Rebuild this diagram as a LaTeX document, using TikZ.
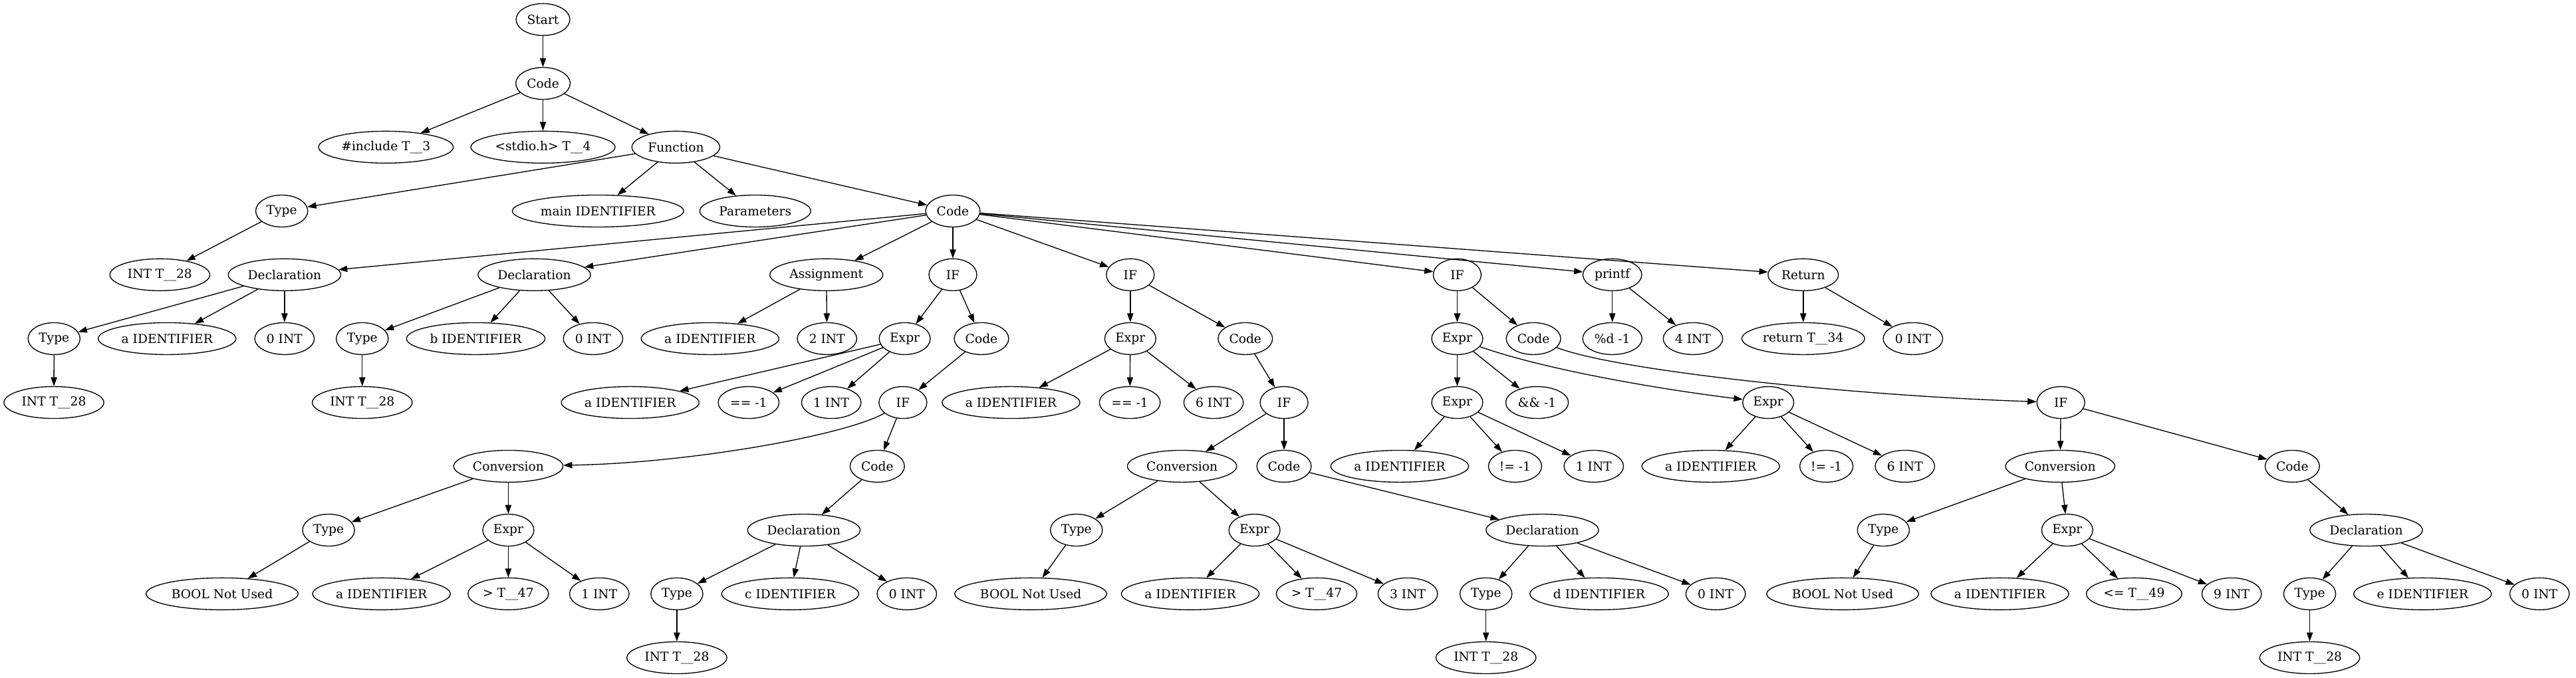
\documentclass[tikz,border=0pt]{standalone}
\usepackage{fontspec}
\setmainfont{DejaVu Serif}
\usetikzlibrary{shapes.geometric,arrows.meta}
\begin{document}
\begin{tikzpicture}[x=1.853pt,y=-1.853pt,
  nd/.style={ellipse,draw,line width=1pt,minimum width=54pt,minimum height=36pt,
    inner xsep=3.5pt,inner ysep=1pt,font=\fontsize{14}{16}\selectfont},
  ed/.style={-{Triangle[length=10pt,width=7pt]},line width=1pt}]
\path[use as bounding box] (0,0) rectangle (1568,412.45);
% row 0-3
\node[nd] (start) at (330.5,11.9) {Start};
\node[nd] (code0) at (330.5,50.8) {Code};
\node[nd] (inc) at (234.9,89.6) {\#include T\_\_3};
\node[nd] (std) at (330.5,89.6) {<stdio.h> T\_\_4};
\node[nd] (func) at (411.4,89.6) {Function};
\node[nd] (type0) at (171.5,128.5) {Type};
\node[nd] (mainid) at (364,128.5) {main IDENTIFIER};
\node[nd] (params) at (459.7,128.5) {Parameters};
\node[nd] (code1) at (580,128.5) {Code};
% row 4
\node[nd] (int0) at (97.3,167.3) {INT T\_\_28};
\node[nd] (dec1) at (173.2,167.3) {Declaration};
\node[nd] (dec2) at (325.2,167.3) {Declaration};
\node[nd] (asg) at (503,167.3) {Assignment};
\node[nd] (ifa) at (580,167.3) {IF};
\node[nd] (ifb) at (688,167.3) {IF};
\node[nd] (ifc) at (887,167.3) {IF};
\node[nd] (printf) at (981.4,167.3) {printf};
\node[nd] (ret) at (1097.6,167.3) {Return};
% row 5
\node[nd] (d1type) at (32.9,206.2) {Type};
\node[nd] (d1id) at (101.7,206.2) {a IDENTIFIER};
\node[nd] (d1val) at (173.2,206.2) {0 INT};
\node[nd] (d2type) at (220.5,206.2) {Type};
\node[nd] (d2id) at (289.6,206.2) {b IDENTIFIER};
\node[nd] (d2val) at (361,206.2) {0 INT};
\node[nd] (asgid) at (432.2,206.2) {a IDENTIFIER};
\node[nd] (asgval) at (503.4,206.2) {2 INT};
\node[nd] (aexpr) at (550.7,206.2) {Expr};
\node[nd] (acode) at (597.4,206.2) {Code};
\node[nd] (bexpr) at (688,206.2) {Expr};
\node[nd] (bcode) at (758,206.2) {Code};
\node[nd] (cexpr) at (887,206.2) {Expr};
\node[nd] (ccode) at (933.4,206.2) {Code};
\node[nd] (pfs) at (981.4,206.2) {\%d -1};
\node[nd] (pfi) at (1030.5,206.2) {4 INT};
\node[nd] (rett) at (1097.6,206.2) {return T\_\_34};
\node[nd] (retv) at (1164.4,206.2) {0 INT};
% row 6
\node[nd] (d1int) at (32.8,245.1) {INT T\_\_28};
\node[nd] (d2int) at (220.5,245.1) {INT T\_\_28};
\node[nd] (aeid) at (383.6,245.1) {a IDENTIFIER};
\node[nd] (aeop) at (455.7,245.1) {== -1};
\node[nd] (aeval) at (506,245.1) {1 INT};
\node[nd] (aif) at (549.6,245.1) {IF};
\node[nd] (beid) at (615.4,245.1) {a IDENTIFIER};
\node[nd] (beop) at (687.7,245.1) {== -1};
\node[nd] (beval) at (738.7,245.1) {6 INT};
\node[nd] (bif) at (781.6,245.1) {IF};
\node[nd] (cex1) at (887,245.1) {Expr};
\node[nd] (cand) at (935.6,245.1) {\&\& -1};
\node[nd] (cex2) at (1076.3,245.1) {Expr};
\node[nd] (cif) at (1254.4,245.1) {IF};
% row 7
\node[nd] (aconv) at (309.4,283.9) {Conversion};
\node[nd] (aicode) at (534,283.9) {Code};
\node[nd] (bconv) at (719.5,283.9) {Conversion};
\node[nd] (bicode) at (781.6,283.9) {Code};
\node[nd] (c1id) at (852,283.9) {a IDENTIFIER};
\node[nd] (c1op) at (922.2,283.9) {!= -1};
\node[nd] (c1val) at (970.1,283.9) {1 INT};
\node[nd] (c2id) at (1041.3,283.9) {a IDENTIFIER};
\node[nd] (c2op) at (1111.7,283.9) {!= -1};
\node[nd] (c2val) at (1159.5,283.9) {6 INT};
\node[nd] (cconv) at (1254,283.9) {Conversion};
\node[nd] (cicode) at (1395.3,283.9) {Code};
% row 8
\node[nd] (atype) at (200,322.8) {Type};
\node[nd] (aexp2) at (309.4,322.8) {Expr};
\node[nd] (adecl) at (489.3,322.8) {Declaration};
\node[nd] (btype) at (655.2,322.8) {Type};
\node[nd] (bexp2) at (763.6,322.8) {Expr};
\node[nd] (bdecl) at (938.8,322.8) {Declaration};
\node[nd] (ctype) at (1146.4,322.8) {Type};
\node[nd] (cexp2) at (1258.3,322.8) {Expr};
\node[nd] (cdecl) at (1440.3,322.8) {Declaration};
% row 9
\node[nd] (abool) at (135.2,361.6) {BOOL Not Used};
\node[nd] (a2id) at (232.2,361.6) {a IDENTIFIER};
\node[nd] (a2op) at (309.4,361.6) {> T\_\_47};
\node[nd] (a2val) at (364.8,361.6) {1 INT};
\node[nd] (adtype) at (412,361.6) {Type};
\node[nd] (adid) at (481,361.6) {c IDENTIFIER};
\node[nd] (adval) at (552,361.6) {0 INT};
\node[nd] (bbool) at (627.4,361.6) {BOOL Not Used};
\node[nd] (b2id) at (724.5,361.6) {a IDENTIFIER};
\node[nd] (b2op) at (801.4,361.6) {> T\_\_47};
\node[nd] (b2val) at (856.9,361.6) {3 INT};
\node[nd] (bdtype) at (904.5,361.6) {Type};
\node[nd] (bdid) at (973.4,361.6) {d IDENTIFIER};
\node[nd] (bdval) at (1044.3,361.6) {0 INT};
\node[nd] (cbool) at (1121.6,361.6) {BOOL Not Used};
\node[nd] (c2xid) at (1217.3,361.6) {a IDENTIFIER};
\node[nd] (c2xop) at (1299,361.6) {<= T\_\_49};
\node[nd] (c2xval) at (1358.4,361.6) {9 INT};
\node[nd] (cdtype) at (1405.9,361.6) {Type};
\node[nd] (cdid) at (1474.6,361.6) {e IDENTIFIER};
\node[nd] (cdval) at (1545.8,361.6) {0 INT};
% row 10
\node[nd] (adint) at (412,400.5) {INT T\_\_28};
\node[nd] (bdint) at (904.5,400.5) {INT T\_\_28};
\node[nd] (cdint) at (1405.9,400.5) {INT T\_\_28};
% edges
\foreach \a/\b in {start/code0, code0/inc, code0/std, code0/func,
  func/type0, func/mainid, func/params, func/code1, type0/int0,
  code1/dec1, code1/dec2, code1/asg, code1/ifa, code1/ifb, code1/ifc, code1/printf, code1/ret,
  dec1/d1type, dec1/d1id, dec1/d1val, d1type/d1int,
  dec2/d2type, dec2/d2id, dec2/d2val, d2type/d2int,
  asg/asgid, asg/asgval,
  ifa/aexpr, ifa/acode, aexpr/aeid, aexpr/aeop, aexpr/aeval, acode/aif,
  aif/aicode, aconv/atype, aconv/aexp2, atype/abool,
  aexp2/a2id, aexp2/a2op, aexp2/a2val, aicode/adecl,
  adecl/adtype, adecl/adid, adecl/adval, adtype/adint,
  ifb/bexpr, ifb/bcode, bexpr/beid, bexpr/beop, bexpr/beval, bcode/bif,
  bif/bconv, bif/bicode, bconv/btype, bconv/bexp2, btype/bbool,
  bexp2/b2id, bexp2/b2op, bexp2/b2val, bicode/bdecl,
  bdecl/bdtype, bdecl/bdid, bdecl/bdval, bdtype/bdint,
  ifc/cexpr, ifc/ccode, cexpr/cex1, cexpr/cand,
  cex1/c1id, cex1/c1op, cex1/c1val, cex2/c2id, cex2/c2op, cex2/c2val,
  cif/cconv, cif/cicode, cconv/ctype, cconv/cexp2, ctype/cbool,
  cexp2/c2xid, cexp2/c2xop, cexp2/c2xval, cicode/cdecl,
  cdecl/cdtype, cdecl/cdid, cdecl/cdval, cdtype/cdint,
  printf/pfs, printf/pfi, ret/rett, ret/retv}
  \draw[ed] (\a) -- (\b);
\draw[ed] (aif) .. controls (515,265) and (420,282) .. (aconv);
\draw[ed] (ccode) .. controls (985,226) and (1130,241) .. (cif);
\draw[ed] (cexpr) .. controls (940,225) and (1010,237) .. (cex2);
\end{tikzpicture}
\end{document}
